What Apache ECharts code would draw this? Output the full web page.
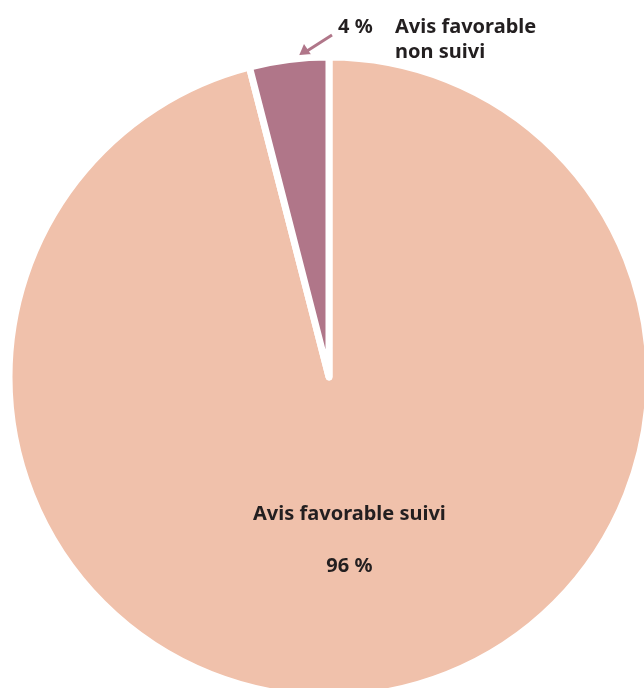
<!DOCTYPE html>
<html>
<head>
<meta charset="utf-8">
<script src="https://cdn.jsdelivr.net/npm/echarts@6/dist/echarts.min.js"></script>
<style>
  html, body { margin: 0; padding: 0; background: #fff; }
  #chart { width: 644px; height: 688px; }
</style>
</head>
<body>
<div id="chart"></div>
<script>
// données du graphique
const categories = ['Avis favorable suivi', 'Avis favorable non suivi'];
const values = [96, 4];
const colors = ['#F0C1AB', '#B07689'];

let myChart = echarts.init(document.getElementById('chart'));

const txt = { fontFamily: 'Noto Sans', fontWeight: 'bold', fontSize: 20, color: '#231F20', lineHeight: 26 };

var option = {
  animation: false,
  textStyle: { fontFamily: 'Noto Sans' },
  series: [
    {
      type: 'pie',
      center: [329, 377],
      radius: [0, 320],
      startAngle: 90,
      clockwise: true,
      itemStyle: {
        borderColor: '#ffffff',
        borderWidth: 7
      },
      labelLine: { show: false },
      data: categories.map((c, i) => ({
        name: c,
        value: values[i],
        itemStyle: { color: colors[i] },
        label: i === 0
          ? {
              position: 'inside',
              align: 'center',
              offset: [0, 2],
              formatter: p => '{t|' + p.name + '}\n{t|}\n{t|' + Math.round(p.percent) + ' %}'
            }
          : {
              position: 'outside',
              formatter: p => '{p|' + Math.round(p.percent) + ' %}{u|Avis favorable}\n{s|}{u|non suivi}'
            }
      })),
      label: {
        show: true,
        color: '#231F20',
        lineHeight: 26,
        rich: {
          t: Object.assign({}, txt),
          u: Object.assign({}, txt, { lineHeight: 25 }),
          p: Object.assign({ width: 57 }, txt, { lineHeight: 25 }),
          s: { width: 57, lineHeight: 25 }
        }
      },
      labelLayout: function (params) {
        if (params.dataIndex === 1) {
          return { x: 338, y: 15, align: 'left', verticalAlign: 'top' };
        }
      }
    }
  ],
  graphic: [
    {
      type: 'line',
      shape: { x1: 332, y1: 35, x2: 307, y2: 51 },
      style: { stroke: '#B07689', lineWidth: 3 }
    },
    {
      type: 'polygon',
      shape: { points: [[298, 58], [312, 56], [304, 44]] },
      style: { fill: '#B07689' }
    }
  ]
};

myChart.setOption(option);
window.addEventListener('resize', () => {
  myChart.resize();
});
</script>
</body>
</html>
